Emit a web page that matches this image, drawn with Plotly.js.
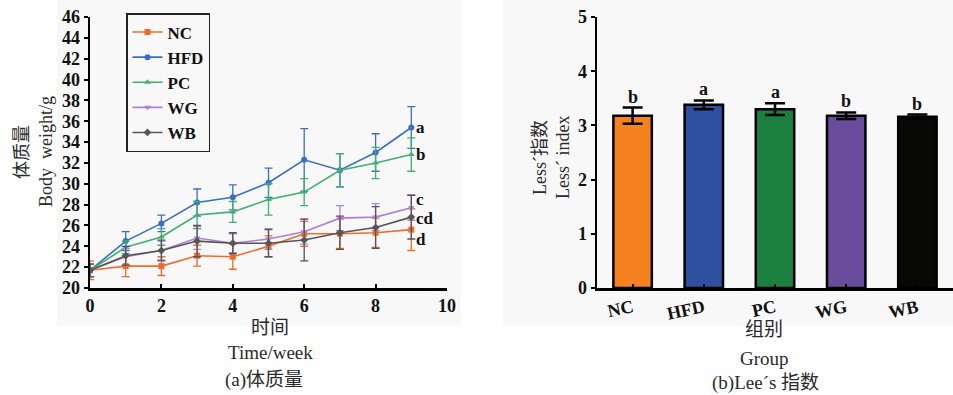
<!DOCTYPE html>
<html>
<head>
<meta charset="utf-8">
<script src="https://cdn.plot.ly/plotly-3.0.1.min.js"></script>
<style>
  html, body { margin: 0; padding: 0; background: #ffffff; }
  #chart { width: 953px; height: 395px; }
</style>
</head>
<body>
<div id="chart"></div>
<script>
// ---- (a) body weight over time ----
const weeks = [0, 1, 2, 3, 4, 5, 6, 7, 8, 9];
const groupNames = ['NC', 'HFD', 'PC', 'WG', 'WB'];

const ncWeight  = [21.7, 22.1, 22.1, 23.1, 23.0, 24.0, 25.2, 25.2, 25.3, 25.6];
const ncSd      = [0.9, 1.0, 0.9, 1.0, 1.2, 1.0, 1.2, 1.4, 1.4, 2.0];
const hfdWeight = [21.7, 24.5, 26.2, 28.2, 28.7, 30.1, 32.3, 31.3, 33.0, 35.4];
const hfdSd     = [0.6, 0.9, 0.8, 1.3, 1.2, 1.4, 3.0, 1.6, 1.8, 2.0];
const pcWeight  = [21.7, 23.9, 24.9, 27.0, 27.3, 28.5, 29.2, 31.3, 32.0, 32.8];
const pcSd      = [0.6, 0.6, 0.8, 1.3, 1.0, 1.5, 1.3, 1.6, 1.5, 1.6];
const wgWeight  = [21.7, 23.0, 23.6, 24.8, 24.3, 24.7, 25.4, 26.7, 26.8, 27.7];
const wgSd      = [0.6, 0.8, 0.9, 1.1, 0.9, 1.0, 1.2, 1.2, 1.3, 1.2];
const wbWeight  = [21.7, 23.1, 23.6, 24.5, 24.3, 24.3, 24.6, 25.3, 25.8, 26.8];
const wbSd      = [0.6, 0.9, 1.0, 1.5, 1.0, 1.3, 2.0, 1.6, 2.0, 2.1];

// significance letters at week 9 and where they sit (g)
const weightLetters  = ['a', 'b', 'c', 'cd', 'd'];
const weightLetterY  = [35.4, 32.8, 28.5, 26.7, 24.7];

// ---- (b) Lee's index ----
const leeGroups  = ['NC', 'HFD', 'PC', 'WG', 'WB'];
const leeIndex   = [3.18, 3.38, 3.30, 3.18, 3.16];
const leeSd      = [0.15, 0.08, 0.11, 0.06, 0.04];
const leeLetters = ['b', 'a', 'a', 'b', 'b'];

const lineColors = ['#f26b2c', '#3b6fc6', '#3fb070', '#b07fd6', '#555555'];
const markerSymbols = ['square', 'circle', 'triangle-up', 'triangle-down', 'diamond'];
const barColors = ['#f5821f', '#2f4f9f', '#1b7f40', '#6a4c9c', '#080806'];

const W = 953, H = 395;
const px = v => v / W;
const py = v => 1 - v / H;

const SERIF = 'Liberation Serif';
const CJK = 'Liberation Serif, Noto Sans CJK SC';
const boldSerif = size => ({ family: SERIF, size: size, color: '#111111', weight: 'bold' });

const weightSeries = [ncWeight, hfdWeight, pcWeight, wgWeight, wbWeight];
const weightSd = [ncSd, hfdSd, pcSd, wgSd, wbSd];

const traces = weightSeries.map((ys, i) => ({
  type: 'scatter',
  mode: 'lines+markers',
  name: groupNames[i],
  x: weeks,
  y: ys,
  xaxis: 'x',
  yaxis: 'y',
  line: { color: lineColors[i], width: 1.6 },
  marker: { color: lineColors[i], symbol: markerSymbols[i], size: 6 },
  error_y: { type: 'data', array: weightSd[i], visible: true,
             color: lineColors[i], thickness: 1.3, width: 4 }
}));

traces.push({
  type: 'bar',
  x: leeGroups,
  y: leeIndex,
  xaxis: 'x2',
  yaxis: 'y2',
  width: 0.54,
  showlegend: false,
  marker: { color: barColors, line: { color: '#000000', width: 2.5 } },
  error_y: { type: 'data', array: leeSd, visible: true,
             color: '#000000', thickness: 2.5, width: 10 }
});

const annotations = [];
weightLetters.forEach((t, i) => {
  annotations.push({
    xref: 'x', yref: 'y', x: 9, y: weightLetterY[i], text: t,
    showarrow: false, xanchor: 'left', xshift: 4, borderpad: 0,
    font: boldSerif(17)
  });
});
leeLetters.forEach((t, i) => {
  annotations.push({
    xref: 'x2', yref: 'y2', x: leeGroups[i], y: leeIndex[i] + leeSd[i], text: t,
    showarrow: false, yanchor: 'bottom', yshift: -1,
    font: boldSerif(18)
  });
});

function label(text, x, y, size, angle) {
  annotations.push({
    xref: 'paper', yref: 'paper', x: px(x), y: py(y), text: text,
    showarrow: false, xanchor: 'center', yanchor: 'middle',
    textangle: angle || 0,
    font: { family: CJK, size: size, color: '#2a2a2a' }
  });
}
// axis titles and panel captions
label('体质量', 22, 152, 18, -90);
label('Body  weight/g', 46, 152, 18, -90);
label('时间', 270, 327, 19);
label('Time/week', 270, 352, 19);
label('(a)体质量', 264, 380, 19);
label('Less´指数', 540, 158, 18, -90);
label('Less´ index', 563, 158, 18, -90);
label('组别', 764, 329, 19);
label('Group', 764, 358, 19);
label('(b)Lee´s 指数', 765, 383, 19);

function axisStyle(extra) {
  return Object.assign({
    showgrid: false, zeroline: false, showline: true,
    linecolor: '#000000', linewidth: 2.5,
    ticklen: 4, tickwidth: 2, tickcolor: '#000000',
    tickfont: boldSerif(18)
  }, extra);
}

const layout = {
  width: W,
  height: H,
  margin: { l: 0, r: 0, t: 0, b: 0 },
  paper_bgcolor: '#ffffff',
  plot_bgcolor: 'rgba(0,0,0,0)',
  font: { family: SERIF },
  showlegend: true,
  legend: {
    x: px(126), y: py(13), xanchor: 'left', yanchor: 'top',
    bgcolor: 'rgba(0,0,0,0)', bordercolor: '#222222', borderwidth: 1.5,
    font: boldSerif(17),
    tracegroupgap: 0
  },
  shapes: [
    { type: 'rect', xref: 'paper', yref: 'paper', layer: 'below',
      x0: px(57), x1: px(461), y0: py(326), y1: 1,
      fillcolor: '#f8f8f8', line: { width: 0 } },
    { type: 'rect', xref: 'paper', yref: 'paper', layer: 'below',
      x0: px(503), x1: 1, y0: py(326), y1: 1,
      fillcolor: '#f8f8f8', line: { width: 0 } }
  ],
  xaxis: axisStyle({
    domain: [px(90), px(447)], range: [0, 10], dtick: 2, tick0: 0,
    ticks: 'inside', anchor: 'y'
  }),
  yaxis: axisStyle({
    domain: [py(288), py(17)], range: [20, 46], dtick: 2, tick0: 20,
    ticks: 'outside', anchor: 'x'
  }),
  xaxis2: axisStyle({
    domain: [px(597), 1], range: [-0.5, 4.5],
    ticks: 'inside', tickangle: -12, anchor: 'y2'
  }),
  yaxis2: axisStyle({
    domain: [py(288), py(17)], range: [0, 5], dtick: 1, tick0: 0,
    ticks: 'outside', anchor: 'x2'
  }),
  annotations: annotations
};

Plotly.newPlot('chart', traces, layout, { displayModeBar: false, staticPlot: true });
</script>
</body>
</html>
